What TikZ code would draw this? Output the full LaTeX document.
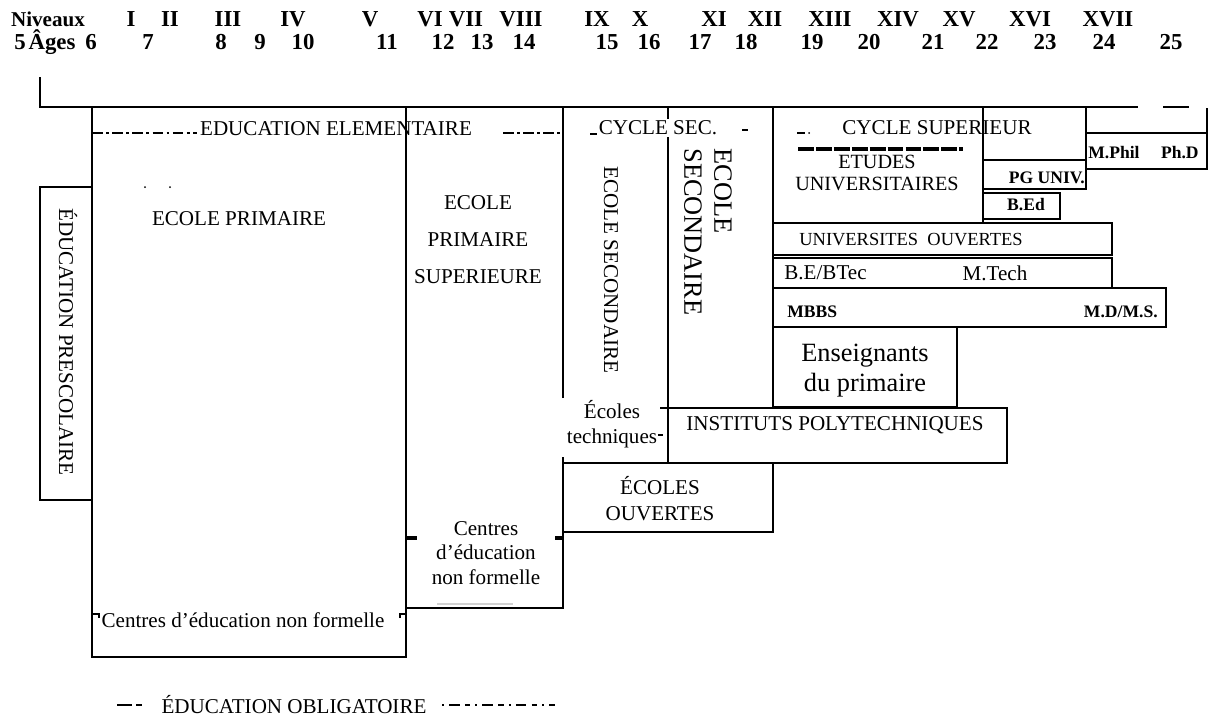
\documentclass[tikz,border=0pt]{standalone}
\usepackage{fontspec}
\setmainfont{Liberation Serif}
\usetikzlibrary{positioning}
\tikzset{
    hdr/.style={font=\bfseries\fontsize{13}{15}\selectfont, inner sep=0pt, anchor=base},
    txt/.style={font=\fontsize{12}{14}\selectfont, inner sep=0pt, align=center},
    bigtxt/.style={font=\fontsize{15}{17}\selectfont, inner sep=0pt},
    degree/.style={font=\bfseries\fontsize{10}{12}\selectfont, inner sep=0pt},
    boxline/.style={line width=0.9pt},
    axisline/.style={line width=1.6pt},
    oblig/.style={line width=0.8pt, dash pattern=on 6pt off 2pt on 1.5pt off 2pt},
    tickmark/.style={line width=1.8pt}
}

\begin{document}
\begin{tikzpicture}[x=0.02cm, y=-0.02cm]
    \useasboundingbox (0,0) rectangle (1210,720);

    % niveaux
    \node[hdr, font=\bfseries\fontsize{12}{14}\selectfont] (niv) at (48,27) {Niveaux};
    \node[hdr] (r1) at (131,27) {I};
    \node[hdr] (r2) at (170,27) {II};
    \node[hdr] (r3) at (228,27) {III};
    \node[hdr] (r4) at (293,27) {IV};
    \node[hdr] (r5) at (370,27) {V};
    \node[hdr] (r6) at (430,27) {VI};
    \node[hdr] (r7) at (466,27) {VII};
    \node[hdr] (r8) at (521,27) {VIII};
    \node[hdr] (r9) at (597,27) {IX};
    \node[hdr] (r10) at (640,27) {X};
    \node[hdr] (r11) at (714,27) {XI};
    \node[hdr] (r12) at (765,27) {XII};
    \node[hdr] (r13) at (830,27) {XIII};
    \node[hdr] (r14) at (898,27) {XIV};
    \node[hdr] (r15) at (959,27) {XV};
    \node[hdr] (r16) at (1030,27) {XVI};
    \node[hdr] (r17) at (1108,27) {XVII};

    % ages
    \node[hdr] (a5) at (20,50) {5};
    \node[hdr] (ages) at (52,50) {Âges};
    \node[hdr] (a6) at (91,50) {6};
    \node[hdr] (a7) at (148,50) {7};
    \node[hdr] (a8) at (221,50) {8};
    \node[hdr] (a9) at (260,50) {9};
    \node[hdr] (a10) at (303,50) {10};
    \node[hdr] (a11) at (387,50) {11};
    \node[hdr] (a12) at (443,50) {12};
    \node[hdr] (a13) at (482,50) {13};
    \node[hdr] (a14) at (524,50) {14};
    \node[hdr] (a15) at (607,50) {15};
    \node[hdr] (a16) at (649,50) {16};
    \node[hdr] (a17) at (700,50) {17};
    \node[hdr] (a18) at (746,50) {18};
    \node[hdr] (a19) at (812,50) {19};
    \node[hdr] (a20) at (869,50) {20};
    \node[hdr] (a21) at (933,50) {21};
    \node[hdr] (a22) at (987,50) {22};
    \node[hdr] (a23) at (1045,50) {23};
    \node[hdr] (a24) at (1104,50) {24};
    \node[hdr] (a25) at (1171,50) {25};

    % axe
    \draw[axisline] (40,77) -- (40,107) -- (1138,107);
    \draw[axisline] (1163,107) -- (1189,107);

    % cadres
    \draw[boxline] (40,187) rectangle (92,500);
    \draw[boxline] (92,107) -- (92,657) -- (406,657) -- (406,107);
    \draw[boxline] (406,608) -- (563,608) -- (563,457);
    \draw[boxline] (563,398) -- (563,107);
    \draw[boxline] (668,107) -- (668,463);
    \draw[boxline] (773,107) -- (773,408);
    \draw[boxline] (660,408) -- (668,408);
    \draw[boxline] (668,408) rectangle (1007,463);
    \draw[boxline] (563,463) rectangle (773,532);
    \draw[boxline] (773,327) rectangle (957,407);
    \draw[line width=1.6pt] (773,327) -- (773,407);
    \draw[boxline] (773,288) rectangle (1166,327);
    \draw[boxline] (773,258) rectangle (1112,288);
    \draw[boxline] (773,223) rectangle (1112,255);
    \draw[boxline] (983,107) -- (983,223);
    \draw[boxline] (1086,107) -- (1086,189);
    \draw[boxline] (983,160) rectangle (1086,189);
    \draw[boxline] (983,193) rectangle (1060,219);
    \draw[boxline] (1086,133) rectangle (1207,169);
    \draw[boxline] (1207,108) -- (1207,133);

    % traits
    \draw[oblig] (92,133) -- (197,133);
    \draw[oblig] (503,133) -- (561,133);
    \draw[tickmark] (406,538) -- (417,538);
    \draw[tickmark] (555,538) -- (563,538);
    \draw[boxline] (92,614) -- (99,614) -- (99,618);
    \draw[boxline] (400,618) -- (400,614) -- (406,614);
    \draw[gray!35, line width=0.6pt] (437,604) -- (513,604);
    \draw[line width=2.2pt, dash pattern=on 9pt off 1.2pt] (798,149) -- (963,149);
    \draw[boxline] (590,134) -- (598,134);
    \draw[boxline] (742,130) -- (748,130);
    \draw[boxline] (797,133) -- (805,133);
    \fill (809,133) circle (1);
    \draw[boxline] (658,435) -- (663,435);
    \fill (145,187) circle (1);
    \fill (170,187) circle (1);

    % textes
    \node[txt, rotate=-90] (presco) at (68,342) {ÉDUCATION PRESCOLAIRE};
    \node[txt] (elem) at (336,129) {EDUCATION ELEMENTAIRE};
    \node[txt] (prim) at (239,219) {ECOLE PRIMAIRE};
    \node[txt, font=\fontsize{12}{21}\selectfont] (primsup) at (478,240) {ECOLE\\PRIMAIRE\\SUPERIEURE};
    \node[txt] (nfleft) at (243,620) {Centres d’éducation non formelle};
    \node[txt] (nfright) at (486,553) {Centres\\d’éducation\\non formelle};
    \node[txt, fill=white, inner sep=1pt] (cyclesec) at (658,128) {CYCLE SEC.};
    \node[txt, rotate=-90] (secA) at (611,270) {ECOLE SECONDAIRE};
    \node[bigtxt, rotate=-90, anchor=west, align=left] (secB) at (708,148) {ECOLE\\SECONDAIRE};
    \node[txt] (techn) at (612,424) {Écoles\\techniques};
    \node[txt, font=\fontsize{12}{14.7}\selectfont] (ouvertes) at (660,499) {ÉCOLES\\OUVERTES};
    \node[txt] (poly) at (835,425) {INSTITUTS POLYTECHNIQUES};
    \node[bigtxt, align=center] (ens) at (865,371) {Enseignants\\du primaire};
    \node[txt] (cyclesup) at (937,128) {CYCLE SUPERIEUR};
    \node[txt, font=\fontsize{11.5}{13}\selectfont] (etudes) at (877,173) {ETUDES\\UNIVERSITAIRES};
    \node[txt, font=\fontsize{10.5}{12}\selectfont, anchor=west] (univouv) at (799,240) {UNIVERSITES\ \ OUVERTES};
    \node[txt, anchor=west] (be) at (784,273) {B.E/BTec};
    \node[txt] (mtech) at (995,273) {M.Tech};
    \node[degree, anchor=west] (mbbs) at (787,312) {MBBS};
    \node[degree, anchor=east] (mdms) at (1158,312) {M.D/M.S.};
    \node[degree, anchor=west] (mphil) at (1088,153) {M.Phil};
    \node[degree, anchor=east] (phd) at (1199,153) {Ph.D};
    \node[degree, anchor=east] (pguniv) at (1085,178) {PG UNIV.};
    \node[degree] (bed) at (1026,205) {B.Ed};

    % legende
    \draw[line width=1.2pt] (117,705) -- (132,705);
    \draw[line width=1.2pt] (136,705) -- (142,705);
    \node[txt] (legend) at (294,705) {ÉDUCATION OBLIGATOIRE};
    \draw[line width=1.2pt, dash pattern=on 1pt off 3pt on 6pt off 3pt on 3pt off 3pt] (442,705) -- (555,705);
\end{tikzpicture}
\end{document}
